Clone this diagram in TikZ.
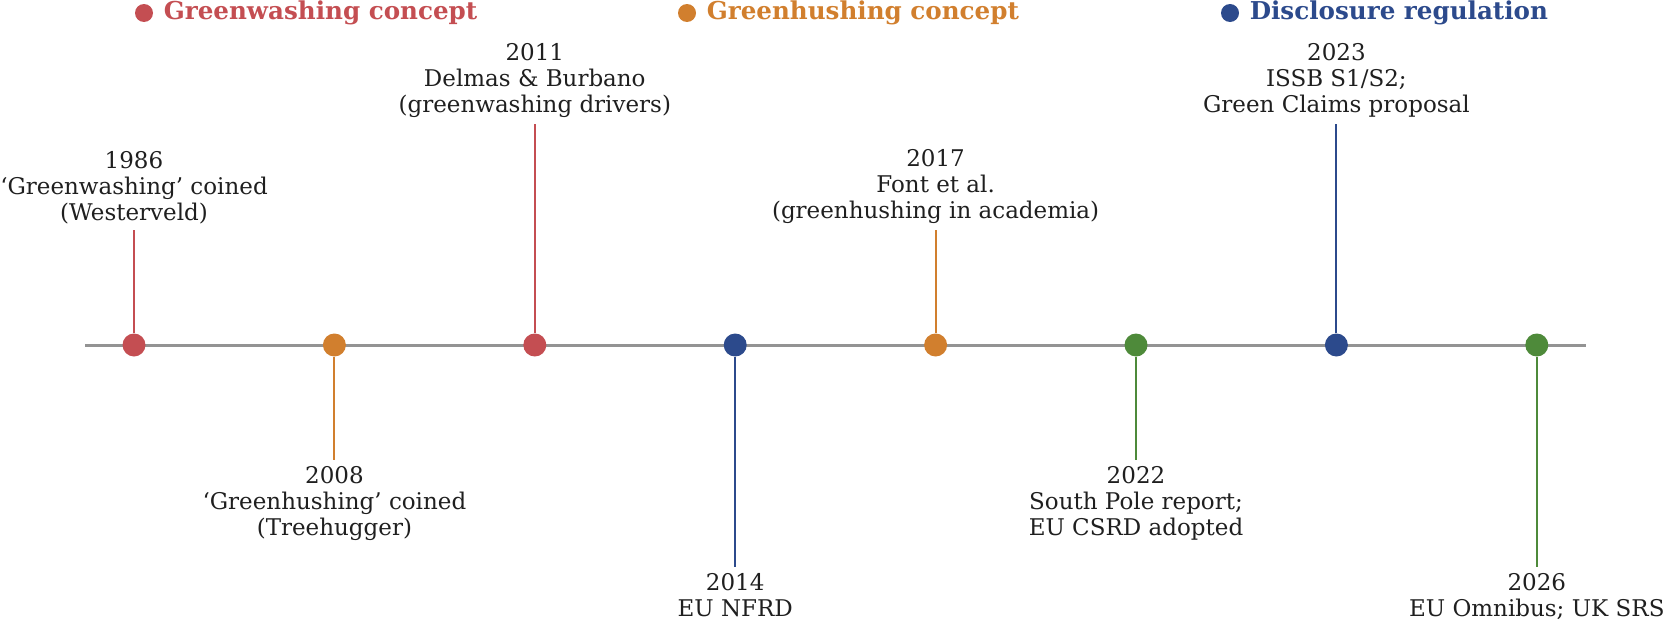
\documentclass[tikz,border=0pt]{standalone}
\usepackage{fontspec}
\setmainfont{DejaVu Serif}
\usetikzlibrary{positioning}
\definecolor{cwash}{HTML}{C44E52}
\definecolor{chush}{HTML}{D17F2E}
\definecolor{creg}{HTML}{2C4A8C}
\definecolor{cnote}{HTML}{4E8A3A}

\begin{document}
\begin{tikzpicture}[x=0.5pt,y=-0.5pt,font=\fontsize{11.5}{13}\selectfont,
  evdot/.style={circle,inner sep=0pt,minimum size=11.5pt},
  legdot/.style={circle,inner sep=0pt,minimum size=9pt},
  legtxt/.style={font=\fontsize{12.3}{14}\selectfont\bfseries,inner sep=0pt},
  stemline/.style={line width=1pt},
  evlabel/.style={align=center,inner xsep=0pt,text=black!88}]
  \useasboundingbox (0,0) rectangle (1665,621);
  % legend
  \node[legdot,fill=cwash] (kwash) at (144,13) {};
  \node[legtxt,text=cwash,right=5pt of kwash] (twash) {Greenwashing concept};
  \node[legdot,fill=chush] (khush) at (687,13) {};
  \node[legtxt,text=chush,right=5pt of khush] (thush) {Greenhushing concept};
  \node[legdot,fill=creg] (kreg) at (1230,13) {};
  \node[legtxt,text=creg,right=5pt of kreg] (treg) {Disclosure regulation};
  % axis
  \coordinate (tl) at (85,345);
  \coordinate (tr) at (1586,345);
  \draw[gray!85,line width=1.5pt] (tl) -- (tr);
  % events: index/colour/stem end/anchor/label
  \foreach \i/\col/\yend/\anc/\txt [evaluate=\i as \xx using 134+200.4*\i] in {
      0/cwash/230/south/{1986\\‘Greenwashing’ coined\\(Westerveld)},
      1/chush/460/north/{2008\\‘Greenhushing’ coined\\(Treehugger)},
      2/cwash/124/south/{2011\\Delmas \& Burbano\\(greenwashing drivers)},
      3/creg/567/north/{2014\\EU NFRD},
      4/chush/230/south/{2017\\Font et al.\\(greenhushing in academia)},
      5/cnote/460/north/{2022\\South Pole report;\\EU CSRD adopted},
      6/creg/124/south/{2023\\ISSB S1/S2;\\Green Claims proposal},
      7/cnote/567/north/{2026\\EU Omnibus; UK SRS}} {
    \node[evdot,fill=\col] (d\i) at (\xx,345) {};
    \coordinate (e\i) at (\xx,\yend);
    \draw[stemline,\col] (d\i) -- (e\i);
    \node[evlabel,anchor=\anc,inner ysep=3pt] (l\i) at (e\i) {\txt};
  }
\end{tikzpicture}
\end{document}
